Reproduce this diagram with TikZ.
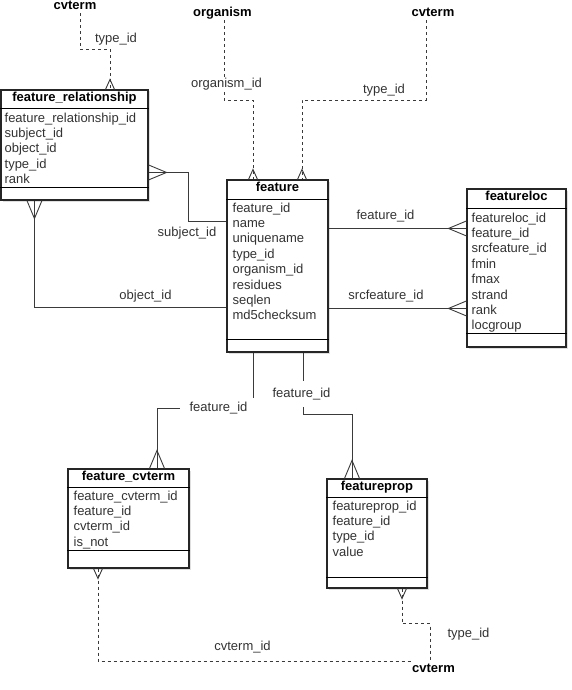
\documentclass[tikz,border=0pt]{standalone}
\usepackage{fontspec}
\setmainfont{Liberation Sans}
\usepackage{tikz}
\usetikzlibrary{shadows}
\definecolor{lnk}{HTML}{3A3A3A}
\definecolor{txt}{HTML}{333333}
\tikzset{
  tbl/.style={draw=black!85, line width=1.1pt, fill=white, inner sep=0pt,
    drop shadow={opacity=0.25, shadow xshift=1.5pt, shadow yshift=-1.5pt}},
  hdr/.style={font=\bfseries\fontsize{13}{15}\selectfont, inner sep=0pt, text height=9.5pt, text depth=2.7pt},
  flds/.style={font=\fontsize{13}{15.4}\selectfont, text=txt, align=left, inner sep=0pt, anchor=north west},
  lbl/.style={font=\fontsize{13}{15}\selectfont, text=txt, inner sep=1pt, text height=9.5pt, text depth=2.7pt},
  ent/.style={font=\bfseries\fontsize{13}{15}\selectfont, inner sep=1pt, text height=9.5pt, text depth=2.7pt},
  rel/.style={draw=lnk, line width=0.9pt},
  opt/.style={rel, dash pattern=on 3pt off 3pt},
  crow/.pic={\draw[lnk, line width=0.9pt] (-7.5pt,0) -- (0,18pt) -- (7.5pt,0);},
  minicrow/.pic={\draw[lnk, line width=0.9pt] (-4.5pt,0) -- (0,10pt) -- (4.5pt,0);},
}

\begin{document}
\begin{tikzpicture}[x=1pt, y=-1pt]
\useasboundingbox (0,0) rectangle (571,690);

% tables
\node[tbl, minimum width=147pt, minimum height=110pt] (frel) at (74.5,145) {};
\draw ([yshift=-19pt]frel.north west) -- ([yshift=-19pt]frel.north east);
\draw ([yshift=13pt]frel.south west) -- ([yshift=13pt]frel.south east);
\node[hdr] (frel-h) at ([yshift=-9pt]frel.north) {feature\_relationship};
\node[flds] (frel-f) at ([xshift=4pt, yshift=-23pt]frel.north west)
  {feature\_relationship\_id\\subject\_id\\object\_id\\type\_id\\rank};

\node[tbl, minimum width=101pt, minimum height=172pt] (feat) at (277.5,266) {};
\draw ([yshift=-20pt]feat.north west) -- ([yshift=-20pt]feat.north east);
\draw ([yshift=13pt]feat.south west) -- ([yshift=13pt]feat.south east);
\node[hdr] (feat-h) at ([yshift=-9pt]feat.north) {feature};
\node[flds] (feat-f) at ([xshift=6pt, yshift=-23pt]feat.north west)
  {feature\_id\\name\\uniquename\\type\_id\\organism\_id\\residues\\seqlen\\md5checksum};

\node[tbl, minimum width=99pt, minimum height=158pt] (floc) at (516.5,268) {};
\draw ([yshift=-20pt]floc.north west) -- ([yshift=-20pt]floc.north east);
\draw ([yshift=14pt]floc.south west) -- ([yshift=14pt]floc.south east);
\node[hdr] (floc-h) at ([yshift=-9pt]floc.north) {featureloc};
\node[flds] (floc-f) at ([xshift=5pt, yshift=-24pt]floc.north west)
  {featureloc\_id\\feature\_id\\srcfeature\_id\\fmin\\fmax\\strand\\rank\\locgroup};

\node[tbl, minimum width=121pt, minimum height=99pt] (fcvt) at (128.5,518.5) {};
\draw ([yshift=-19pt]fcvt.north west) -- ([yshift=-19pt]fcvt.north east);
\draw ([yshift=18pt]fcvt.south west) -- ([yshift=18pt]fcvt.south east);
\node[hdr] (fcvt-h) at ([yshift=-9pt]fcvt.north) {feature\_cvterm};
\node[flds] (fcvt-f) at ([xshift=6pt, yshift=-22pt]fcvt.north west)
  {feature\_cvterm\_id\\feature\_id\\cvterm\_id\\is\_not};

\node[tbl, minimum width=100pt, minimum height=109pt] (fprop) at (377,533.5) {};
\draw ([yshift=-19pt]fprop.north west) -- ([yshift=-19pt]fprop.north east);
\draw ([yshift=11pt]fprop.south west) -- ([yshift=11pt]fprop.south east);
\node[hdr] (fprop-h) at ([yshift=-9pt]fprop.north) {featureprop};
\node[flds] (fprop-f) at ([xshift=6pt, yshift=-22pt]fprop.north west)
  {featureprop\_id\\feature\_id\\type\_id\\value};

% outside tables
\node[ent] (cvt1) at (75,6) {cvterm};
\node[ent] (org) at (222.5,13) {organism};
\node[ent] (cvt2) at (433,13) {cvterm};
\node[ent] (cvt3) at (433.5,669.5) {cvterm};

% links to cvterm and organism
\draw[opt] ([xshift=5pt]cvt1.south) -- ++(0,36) -| ([xshift=35.5pt]frel.north);
\pic at ([xshift=35.5pt]frel.north) {minicrow};
\node[lbl] (l-type1) at (116,39) {type\_id};

\draw[opt] ([xshift=1.5pt]org.south) -- ++(0,80) -| ([xshift=-24.5pt]feat.north);
\pic at ([xshift=-24.5pt]feat.north) {minicrow};
\node[lbl, fill=white] (l-org) at (226.5,84) {organism\_id};

\draw[opt] ([xshift=-7pt]cvt2.south) -- ++(0,80) -| ([xshift=24.5pt]feat.north);
\pic at ([xshift=24.5pt]feat.north) {minicrow};
\node[lbl] (l-type2) at (384,90) {type\_id};

% feature_relationship
\draw[rel] ([yshift=-83pt]frel.north east) -- ++(40,0) |- ([yshift=-42pt]feat.north west);
\pic[rotate=-90] at ([yshift=-83pt]frel.north east) {crow};
\node[lbl] (l-subj) at (187,233) {subject\_id};

\draw[rel] ([xshift=34pt]frel.south west) |- ([yshift=-128pt]feat.north west);
\pic[rotate=180] at ([xshift=34pt]frel.south west) {crow};
\node[lbl] (l-obj) at (145.5,296) {object\_id};

% featureloc
\coordinate (fl1) at ([yshift=-49pt]feat.north east);
\coordinate (fl2) at ([yshift=-129pt]feat.north east);
\draw[rel] (fl1) -- (fl1 -| floc.west);
\pic[rotate=90] at (fl1 -| floc.west) {crow};
\node[lbl] (l-fid1) at (385.5,216) {feature\_id};
\draw[rel] (fl2) -- (fl2 -| floc.west);
\pic[rotate=90] at (fl2 -| floc.west) {crow};
\node[lbl] (l-src) at (386,296) {srcfeature\_id};

% feature_cvterm and featureprop
\draw[rel] ([xshift=-24.5pt]feat.south) -- ++(0,56) -| ([xshift=28.5pt]fcvt.north);
\pic at ([xshift=28.5pt]fcvt.north) {crow};
\node[lbl, fill=white, inner xsep=10pt, inner ysep=4pt] (l-fid2) at (218.5,408) {feature\_id};

\draw[rel] ([xshift=25.5pt]feat.south) -- ++(0,62) -| ([xshift=-25pt]fprop.north);
\pic at ([xshift=-25pt]fprop.north) {crow};
\node[lbl, fill=white, inner xsep=2pt, inner ysep=7pt] (l-fid3) at (301.5,394) {feature\_id};

% bottom cvterm
\draw[opt] ([xshift=-30.5pt]fcvt.south) |- ([yshift=8.5pt]cvt3.west);
\pic[rotate=180] at ([xshift=-30.5pt]fcvt.south) {minicrow};
\node[lbl] (l-cvid) at (242.5,647) {cvterm\_id};

\draw[opt] ([xshift=25pt]fprop.south) -- ++(0,35) -| ([xshift=-3.5pt]cvt3.north);
\pic[rotate=180] at ([xshift=25pt]fprop.south) {minicrow};
\node[lbl] (l-type3) at (468.5,634) {type\_id};
\end{tikzpicture}
\end{document}
